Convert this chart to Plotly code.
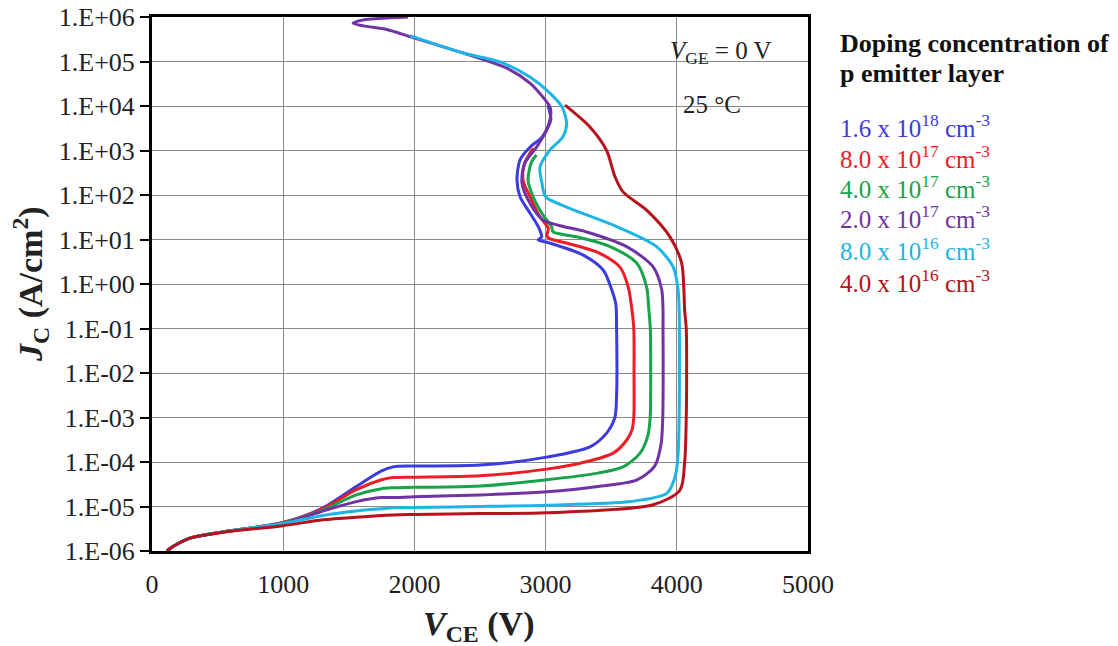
import plotly.graph_objects as go

# ---- data (V_CE in volts, log10 of J_C in A/cm^2) ----
labels = ["1.6 x 10<sup>18</sup> cm<sup>-3</sup>",
          "8.0 x 10<sup>17</sup> cm<sup>-3</sup>",
          "4.0 x 10<sup>17</sup> cm<sup>-3</sup>",
          "2.0 x 10<sup>17</sup> cm<sup>-3</sup>",
          "8.0 x 10<sup>16</sup> cm<sup>-3</sup>",
          "4.0 x 10<sup>16</sup> cm<sup>-3</sup>"]
colors = ["#3b3be0", "#ee1c25", "#17a34a", "#7133a3", "#1db4e6", "#b5121b"]

v_a = [114, 160, 290, 541, 1000, 1303, 1557, 1750, 1837, 2000, 2500, 3008, 3338, 3465, 3528,
       3541, 3541, 3535, 3504, 3440, 3287, 3033, 2944, 2970, 2944, 2882, 2805, 2782, 2805,
       2882, 2972, 3040, 3033, 3018]
lg_a = [-6.0, -5.9, -5.71, -5.57, -5.36, -5.03, -4.55, -4.2, -4.11, -4.09, -4.07, -3.89, -3.66,
        -3.35, -3.0, -2.5, -1.0, -0.45, -0.13, 0.31, 0.65, 0.92, 0.99, 1.06, 1.29, 1.59, 1.96,
        2.34, 2.79, 3.08, 3.30, 3.69, 3.84, 4.02]

v_b = [114, 160, 290, 541, 1000, 1303, 1557, 1750, 1837, 2000, 2500, 3008, 3300, 3516, 3620,
       3658, 3672, 3674, 3672, 3658, 3630, 3567, 3389, 3160, 3030, 3010, 3020, 2957, 2882,
       2828, 2840, 2905]
lg_b = [-6.0, -5.9, -5.71, -5.57, -5.36, -5.05, -4.62, -4.4, -4.35, -4.34, -4.31, -4.16, -4.0,
        -3.8, -3.5, -3.28, -3.0, -2.0, -1.0, -0.58, -0.07, 0.38, 0.72, 0.92, 1.02, 1.08, 1.25,
        1.51, 1.96, 2.34, 2.71, 3.05]

v_c = [114, 160, 290, 541, 1000, 1303, 1557, 1750, 1837, 2000, 2500, 3008, 3400, 3591, 3720,
       3780, 3797, 3801, 3798, 3787, 3770, 3694, 3491, 3237, 3058, 3045, 2980, 2905, 2866,
       2894, 2930]
lg_c = [-6.0, -5.9, -5.71, -5.57, -5.37, -5.08, -4.74, -4.6, -4.58, -4.57, -4.54, -4.40, -4.25,
        -4.11, -3.8, -3.4, -3.0, -2.0, -1.0, -0.58, -0.07, 0.47, 0.84, 1.06, 1.17, 1.29, 1.55,
        1.96, 2.34, 2.75, 2.9]

v_d = [114, 160, 290, 541, 1000, 1303, 1557, 1750, 1837, 2000, 2500, 3008, 3400, 3697, 3830,
       3880, 3893, 3896, 3895, 3895, 3885, 3821, 3618, 3313, 3097, 2980, 2882, 2820, 2840,
       2932, 3008, 3040, 3033, 2980, 2883, 2705, 2372, 1966, 1790, 1610, 1533, 1600, 1951]
lg_d = [-6.0, -5.9, -5.71, -5.57, -5.38, -5.1, -4.89, -4.8, -4.80, -4.78, -4.74, -4.67, -4.55,
        -4.40, -4.1, -3.6, -3.0, -2.0, -1.0, -0.6, -0.13, 0.38, 0.84, 1.17, 1.32, 1.44, 1.81,
        2.27, 2.71, 3.08, 3.46, 3.84, 3.98, 4.20, 4.51, 4.85, 5.19, 5.56, 5.72, 5.80, 5.86,
        5.93, 6.0]

v_e = [114, 160, 290, 541, 1000, 1303, 1557, 1750, 1837, 2000, 2500, 3008, 3643, 3925, 3990,
       4010, 4018, 4020, 4020, 4018, 4010, 3973, 3846, 3541, 3160, 3000, 2972, 2957, 3033,
       3132, 3160, 3125, 3033, 2881, 2652, 2372, 1966]
lg_e = [-6.0, -5.9, -5.71, -5.57, -5.38, -5.2, -5.1, -5.05, -5.03, -5.02, -5.0, -4.97, -4.89,
        -4.70, -4.3, -3.8, -3.0, -2.0, -1.0, -0.6, -0.13, 0.38, 0.84, 1.29, 1.73, 1.96, 2.27,
        2.63, 3.01, 3.31, 3.61, 3.98, 4.29, 4.65, 4.99, 5.19, 5.58]

v_f = [114, 160, 290, 541, 1000, 1303, 1557, 1837, 2000, 2500, 3008, 3820, 4024, 4060, 4072,
       4075, 4072, 4060, 4054, 4037, 3948, 3770, 3590, 3529, 3465, 3338, 3148]
lg_f = [-6.0, -5.9, -5.71, -5.58, -5.43, -5.30, -5.24, -5.19, -5.18, -5.16, -5.14, -4.96, -4.63,
        -4.0, -3.0, -2.0, -1.0, -0.6, -0.13, 0.47, 1.06, 1.66, 2.07, 2.41, 3.0, 3.53, 4.02]

series_v = [v_a, v_b, v_c, v_d, v_e, v_f]
series_lg = [lg_a, lg_b, lg_c, lg_d, lg_e, lg_f]

x_ticks = [0, 1000, 2000, 3000, 4000, 5000]
y_exps = [-6, -5, -4, -3, -2, -1, 0, 1, 2, 3, 4, 5, 6]
y_ticktext = ["1.E-06", "1.E-05", "1.E-04", "1.E-03", "1.E-02", "1.E-01", "1.E+00",
              "1.E+01", "1.E+02", "1.E+03", "1.E+04", "1.E+05", "1.E+06"]

FONT = "Liberation Serif"
TXT = "#222222"

fig = go.Figure()
for v, lg, col, lab in zip(series_v, series_lg, colors, labels):
    fig.add_trace(go.Scatter(
        x=v, y=[10 ** e for e in lg], mode="lines", name=lab,
        line=dict(color=col, width=3, shape="spline", smoothing=0.8),
        showlegend=False, cliponaxis=True))

fig.update_layout(
    width=1118, height=646,
    margin=dict(l=152, r=310, t=17, b=95, autoexpand=False),
    paper_bgcolor="white", plot_bgcolor="white",
    font=dict(family=FONT, color=TXT),
)
fig.update_xaxes(
    range=[0, 5000], tickvals=x_ticks, ticktext=[str(t) for t in x_ticks],
    showgrid=True, gridcolor="#8a8a8a", gridwidth=1, automargin=False,
    showline=True, linecolor="black", linewidth=3, mirror=True,
    ticks="", ticklabelstandoff=8, tickfont=dict(size=26, family=FONT, color=TXT),
    zeroline=False,
)
fig.update_yaxes(
    type="log", range=[-6, 6], tickvals=[10 ** e for e in y_exps], ticktext=y_ticktext,
    showgrid=True, gridcolor="#8a8a8a", gridwidth=1, automargin=False,
    showline=True, linecolor="black", linewidth=3, mirror=True,
    ticks="outside", ticklen=9, tickwidth=1.5, tickcolor="black",
    tickfont=dict(size=26, family=FONT, color=TXT),
    zeroline=False,
)

# white box behind the condition labels
fig.add_shape(type="rect", xref="paper", yref="paper", x0=0.767, x1=0.985, y0=0.803, y1=0.991,
              fillcolor="white", line=dict(width=0), layer="between")

ann = []
ann.append(dict(text="<i>V</i><sub>GE</sub> = 0 V", x=0.867, y=0.934, xref="paper", yref="paper",
                xanchor="center", yanchor="middle", showarrow=False,
                font=dict(size=25, family=FONT, color=TXT)))
ann.append(dict(text="25 °C", x=0.854, y=0.837, xref="paper", yref="paper",
                xanchor="center", yanchor="middle", showarrow=False,
                font=dict(size=25, family=FONT, color=TXT)))
ann.append(dict(text="<b><i>V</i><sub>CE</sub> (V)</b>", x=0.497, y=-0.1404, xref="paper",
                yref="paper", xanchor="center", yanchor="middle", showarrow=False,
                font=dict(size=34, family=FONT, color=TXT)))
ann.append(dict(text="<b><i>J</i><sub>C</sub> (A/cm<sup>2</sup>)</b>", x=-0.186, y=0.5,
                xref="paper", yref="paper", xanchor="center", yanchor="middle",
                textangle=-90, showarrow=False,
                font=dict(size=34, family=FONT, color=TXT)))
ann.append(dict(text="<b>Doping concentration of</b>", x=1.0457, y=0.9513, xref="paper",
                yref="paper", xanchor="left", yanchor="middle", showarrow=False,
                font=dict(size=26, family=FONT, color="#111111")))
ann.append(dict(text="<b>p emitter layer</b>", x=1.0457, y=0.8951, xref="paper",
                yref="paper", xanchor="left", yanchor="middle", showarrow=False,
                font=dict(size=26, family=FONT, color="#111111")))
legend_y = [0.7959, 0.7378, 0.6816, 0.6255, 0.5655, 0.5056]
for lab, col, yy in zip(labels, colors, legend_y):
    ann.append(dict(text=lab, x=1.0457, y=yy, xref="paper", yref="paper", xanchor="left",
                    yanchor="middle", showarrow=False,
                    font=dict(size=25, family=FONT, color=col)))
fig.update_layout(annotations=ann)

fig.write_html("out.html")
